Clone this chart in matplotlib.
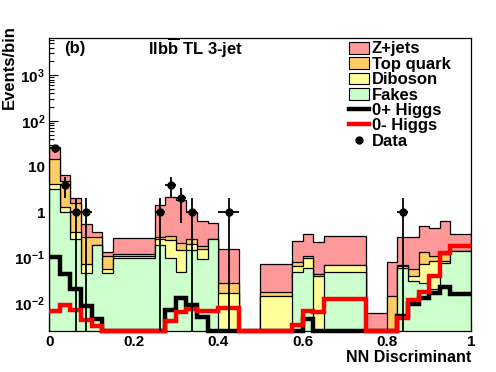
import numpy as np
import matplotlib
matplotlib.use("Agg")
import matplotlib.pyplot as plt
from matplotlib.patches import Patch
from matplotlib.lines import Line2D
from matplotlib.ticker import MultipleLocator, LogLocator, FixedLocator, FuncFormatter, NullFormatter

plt.rcParams['font.family'] = ['Liberation Sans', 'DejaVu Sans']
plt.rcParams['font.weight'] = 'bold'
plt.rcParams['mathtext.fontset'] = 'custom'
plt.rcParams['mathtext.rm'] = 'Liberation Sans:bold'
plt.rcParams['mathtext.bf'] = 'Liberation Sans:bold'
plt.rcParams['mathtext.it'] = 'Liberation Sans:bold:italic'

# bin edges (variable binning)
edges = [0, .025, .05, .075, .1, .125, .15, .25, .275, .3, .325, .35, .375, .4,
         .45, .5, .575, .6, .625, .65, .75, .8, .825, .85, .875, .9, .925, .95, 1.0]

# background components, per bin
fakes   = [3.2, 1.0, 0.26, 0.046, 0.19, 0.046, 0.099, 0.19, 0.099, 0.049, 0.149, 0.094, 0.255, 0,
           0, 0, 0.049, 0.06, 0, 0.048, 0, 0, 0.06, 0.03, 0.028, 0.02, 0.076, 0.137]
diboson = [1.0, 0.28, 0.11, 0.027, 0.0, 0.011, 0.011, 0.065, 0.14, 0.10, 0.051, 0.061, 0, 0.0166,
           0, 0.0141, 0.016, 0.04, 0.0387, 0.020, 0, 0, 0.004, 0.01, 0.045, 0.063, 0.007, 0]
top     = [10.0, 3.4, 1.22, 0.21, 0.09, 0.053, 0.012, 0.035, 0.06, 0.06, 0.059, 0.025, 0, 0.0114,
           0, 0.0038, 0.016, 0.007, 0.0041, 0.002, 0, 0.0144, 0.004, 0.017, 0.06, 0.024, 0.04, 0]
zjets   = [11.8, 1.8, 0.4, 0.26, 0.08, 0.023, 0.146, 1.1, 1.85, 1.6, 0.74, 0.47, 0.315, 0.129,
           0, 0.055, 0.154, 0.22, 0.176, 0.23, 0.006, 0.067, 0.21, 0.23, 0.37, 0.33, 0.5, 0.2]

# signal templates
higgs_0p = [0.101, 0.0446, 0.0209, 0.0087, 0.0044, 0, 0, 0, 0.0072, 0.0127, 0.0093, 0.0051, 0, 0,
            0, 0, 0, 0.0044, 0, 0, 0, 0, 0.0052, 0.0095, 0.0133, 0.017, 0.023, 0.016]
higgs_0m = [0.0068, 0.0092, 0.0071, 0.0043, 0.0032, 0, 0, 0, 0.0040, 0.0065, 0.0075, 0.0066, 0.0066, 0.0078,
            0, 0, 0.0033, 0.0066, 0.0064, 0.0125, 0, 0, 0.0047, 0.0115, 0.0175, 0.039, 0.126, 0.183]

# observed events
data = [25, 4, 1, 1, 0, 0, 0, 1, 4, 2, 1, 0, 0, 1,
        0, 0, 0, 0, 0, 0, 0, 0, 1, 0, 0, 0, 0, 0]

xticks = [0, 0.2, 0.4, 0.6, 0.8, 1.0]
xtick_labels = ['0', '0.2', '0.4', '0.6', '0.8', '1']
yticks = [1e-2, 1e-1, 1, 10, 100, 1000]

ymin, ymax = 0.00246, 6700
tiny = 1e-6

edges = np.array(edges)
c1 = np.array(fakes)
c2 = c1 + np.array(diboson)
c3 = c2 + np.array(top)
c4 = c3 + np.array(zjets)

fig = plt.figure(figsize=(4.96, 3.72), dpi=100)
ax = fig.add_axes([49.3 / 496, 1 - 331 / 372, 422 / 496, (331 - 37.5) / 372])
ax.set_yscale('log')

cols = ['#ff9999', '#ffcc66', '#ffff99', '#ccffcc']
for vals, col in zip([c4, c3, c2, c1], cols):
    ax.stairs(np.where(vals > 0, vals, tiny), edges, baseline=tiny, fill=True,
              facecolor=col, edgecolor='black', linewidth=0.9, zorder=2)

ax.stairs(np.maximum(higgs_0p, ymin), edges, baseline=None, color='black',
          linewidth=3.2, zorder=4, clip_on=False)
ax.stairs(np.maximum(higgs_0m, ymin), edges, baseline=None, color='red',
          linewidth=3.2, zorder=5, clip_on=False)

d = np.array(data, dtype=float)
centers = (edges[:-1] + edges[1:]) / 2
half = (edges[1:] - edges[:-1]) / 2
m = d > 0
err = np.sqrt(d[m])
lo = d[m] - np.maximum(d[m] - err, tiny)
ax.errorbar(centers[m], d[m], xerr=half[m], yerr=[lo, err], fmt='o', color='black',
            ms=5, elinewidth=1.3, capsize=0, zorder=6)

ax.set_xlim(0, 1)
ax.set_ylim(ymin, ymax)

ax.set_xticks(xticks, xtick_labels)
ax.xaxis.set_minor_locator(MultipleLocator(0.05))


def ylab(v, pos):
    e = int(round(np.log10(v)))
    if e == 0:
        return '1'
    if e == 1:
        return '10'
    return r'$\mathbf{10^{%d}}$' % e


ax.yaxis.set_major_locator(FixedLocator(yticks))
ax.yaxis.set_minor_locator(LogLocator(base=10, subs=np.arange(2, 10), numticks=20))
ax.yaxis.set_major_formatter(FuncFormatter(ylab))
ax.yaxis.set_minor_formatter(NullFormatter())

ax.tick_params(which='both', direction='in', width=0.8, labelsize=11)
ax.tick_params(which='major', length=6.5, pad=3)
ax.tick_params(which='minor', length=3.5)
for s in ax.spines.values():
    s.set_linewidth(0.9)

fig.text(9 / 496, 1 - 25 / 372, 'Events/bin', rotation=90, ha='center', va='top', fontsize=12)
fig.text(471 / 496, 1 - 357 / 372, 'NN Discriminant', ha='right', va='center', fontsize=11.5)
fig.text(64 / 496, 1 - 48 / 372, '(b)', ha='left', va='center', fontsize=12)
fig.text(148 / 496, 1 - 48 / 372, r'$\mathbf{llb}\overline{\mathbf{b}}$ TL 3-jet',
         ha='left', va='center', fontsize=12)

handles = [Patch(facecolor=cols[0], edgecolor='black', lw=0.8),
           Patch(facecolor=cols[1], edgecolor='black', lw=0.8),
           Patch(facecolor=cols[2], edgecolor='black', lw=0.8),
           Patch(facecolor=cols[3], edgecolor='black', lw=0.8),
           Line2D([], [], color='black', lw=3.2),
           Line2D([], [], color='red', lw=3.2),
           Line2D([], [], color='black', marker='o', ms=5, ls='none')]
labels = ['Z+jets', 'Top quark', 'Diboson', 'Fakes', '0+ Higgs', '0- Higgs', 'Data']
ax.legend(handles, labels, loc='upper left', bbox_to_anchor=(349 / 496, 1 - 41.5 / 372),
          bbox_transform=fig.transFigure, frameon=False, fontsize=12, borderpad=0,
          borderaxespad=0, handletextpad=0.15, handlelength=1.2, handleheight=0.7,
          labelspacing=0.02)

fig.savefig('out.png', dpi=100)
